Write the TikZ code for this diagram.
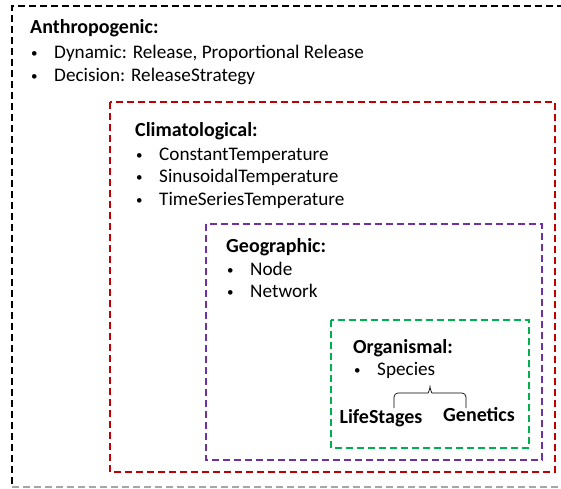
\documentclass[tikz,border=0pt]{standalone}
\usepackage{fontspec}
\setmainfont{Carlito}
\usepackage{xcolor}
\usepackage{tikz}
\usetikzlibrary{positioning,calc,decorations.pathreplacing}
\definecolor{anthro}{RGB}{0,0,0}
\definecolor{climate}{RGB}{192,0,0}
\definecolor{geo}{RGB}{112,48,160}
\definecolor{organism}{RGB}{0,176,80}
\definecolor{lowedge}{RGB}{166,166,166}
\newcommand{\bul}{\makebox[24pt][l]{\hspace{1pt}\raisebox{1pt}{\fontsize{13}{13}\selectfont\textbullet}}}

\begin{document}
\begin{tikzpicture}[
    x=1pt, y=-1pt,
    scopebox/.style={line width=2pt, dash pattern=on 7pt off 4pt},
    heading/.style={anchor=base west, inner sep=0pt, font=\fontsize{20}{24}\selectfont\bfseries},
    item/.style={anchor=base west, inner sep=0pt, font=\fontsize{19.2}{24}\selectfont},
    sublabel/.style={anchor=base, inner sep=0pt, font=\fontsize{20}{24}\selectfont\bfseries}
]
    \path[use as bounding box, clip] (0,0) rectangle (561,488);

    % Boxes
    \draw[scopebox, anthro] (575,6) -- (12,6) -- (12,487);
    \draw[scopebox, lowedge, line width=1.5pt] (12,487) -- (575,487);
    \draw[scopebox, climate] (110,102) rectangle (555,472);
    \draw[scopebox, geo] (206,224) rectangle (542,460);
    \draw[scopebox, organism] (331,320) rectangle (529,448);

    % Anthropogenic
    \node[heading] (anthro) at (30,33) {Anthropogenic:};
    \node[item] (dynamic) at (30,58) {\bul Dynamic: Release, Proportional Release};
    \node[item] (decision) at (30,81) {\bul Decision: ReleaseStrategy};

    % Climatological
    \node[heading] (climate) at (135,136) {Climatological:};
    \node[item] (consttemp) at (135,160) {\bul ConstantTemperature};
    \node[item] (sinetemp) at (135,182) {\bul SinusoidalTemperature};
    \node[item] (seriestemp) at (135,205) {\bul TimeSeriesTemperature};

    % Geographic
    \node[heading] (geo) at (226,252) {Geographic:};
    \node[item] (nodeitem) at (226,275) {\bul Node};
    \node[item] (network) at (226,297) {\bul Network};

    % Organismal
    \node[heading] (organism) at (353,353) {Organismal:};
    \node[item] (species) at (353,375) {\bul Species};
    \node[sublabel] (lifestages) at (381,423) {LifeStages};
    \node[sublabel] (genetics) at (479,421) {Genetics};

    % Brace
    \coordinate (braceL) at (394,408);
    \coordinate (braceR) at (466,408);
    \draw[line width=0.7pt, rounded corners=4pt] (braceL) |- (424,393)
        to[out=0, in=-90] (430,383) to[out=-90, in=180] (436,393) -| (braceR);
\end{tikzpicture}
\end{document}
